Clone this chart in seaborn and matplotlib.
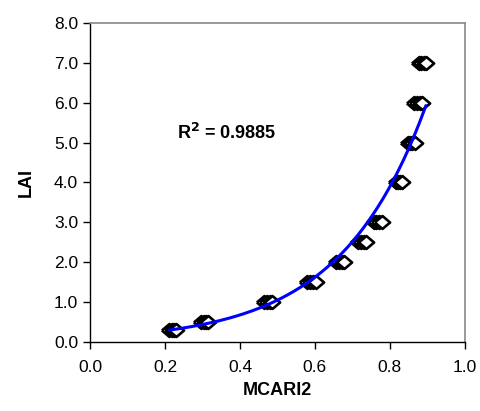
import numpy as np
import pandas as pd
import seaborn as sns
import matplotlib
matplotlib.use("Agg")
import matplotlib.pyplot as plt

# LAI levels and MCARI2 readings (several samples per LAI level)
lai_levels = [0.3, 0.5, 1.0, 1.5, 2.0, 2.5, 3.0, 4.0, 5.0, 6.0, 7.0]
mcari2 = [
    [0.212, 0.218, 0.224, 0.230],
    [0.295, 0.303, 0.310, 0.316],
    [0.465, 0.472, 0.480, 0.486],
    [0.578, 0.588, 0.596, 0.604],
    [0.655, 0.663, 0.671, 0.678],
    [0.714, 0.722, 0.730, 0.737],
    [0.757, 0.764, 0.771, 0.778],
    [0.815, 0.821, 0.827, 0.833],
    [0.848, 0.854, 0.860, 0.866],
    [0.865, 0.872, 0.879, 0.885],
    [0.878, 0.884, 0.890, 0.896],
]
r2_text = "R$^\\mathbf{2}$ = 0.9885"

rows = []
for lai, xs in zip(lai_levels, mcari2):
    for x in xs:
        rows.append({"MCARI2": x, "LAI": lai})
df = pd.DataFrame(rows)

# exponential trend line (fit on log LAI)
b, ln_a = np.polyfit(df["MCARI2"], np.log(df["LAI"]), 1)
xfit = np.linspace(df["MCARI2"].min(), df["MCARI2"].max(), 200)
fit = pd.DataFrame({"MCARI2": xfit, "LAI": np.exp(ln_a) * np.exp(b * xfit)})

sns.set_style("white")
plt.rcParams["font.family"] = ["Liberation Sans", "DejaVu Sans"]
plt.rcParams["text.color"] = "black"
plt.rcParams["axes.labelcolor"] = "black"
plt.rcParams["xtick.color"] = "black"
plt.rcParams["ytick.color"] = "black"

# slightly wide diamond like the spreadsheet marker
wide_diamond = [(-1, 0), (0, 0.85), (1, 0), (0, -0.85), (-1, 0)]

fig = plt.figure(figsize=(4.8, 4.11), dpi=100)
ax = fig.add_axes([0.1875, 0.168, 0.781, 0.776])

sns.scatterplot(data=df, x="MCARI2", y="LAI", marker=wide_diamond, s=120,
                facecolor="white", edgecolor="black", linewidth=1.9, ax=ax, zorder=2)
sns.lineplot(data=fit, x="MCARI2", y="LAI", color="#0000FF", linewidth=2.2, ax=ax, zorder=3)

ax.set_xlim(0, 1.0)
ax.set_ylim(0, 8.0)
ax.set_xticks(np.arange(0, 1.01, 0.2))
ax.set_yticks(np.arange(0, 8.01, 1.0))
ax.xaxis.set_major_formatter(matplotlib.ticker.FormatStrFormatter("%.1f"))
ax.yaxis.set_major_formatter(matplotlib.ticker.FormatStrFormatter("%.1f"))
ax.tick_params(axis="both", direction="out", length=5, width=1, colors="black",
               labelsize=12.5, bottom=True, left=True)
ax.tick_params(axis="x", pad=8)

for side in ["left", "bottom"]:
    ax.spines[side].set_color("black")
    ax.spines[side].set_linewidth(1)
for side in ["top", "right"]:
    ax.spines[side].set_color("#888888")
    ax.spines[side].set_linewidth(1.2)

ax.set_xlabel("MCARI2", fontsize=13, fontweight="bold", labelpad=5)
ax.set_ylabel("LAI", fontsize=13, fontweight="bold", labelpad=14)

ax.text(0.232, 5.25, r2_text, fontsize=13, fontweight="bold", va="center", ha="left")

fig.savefig("out.png", dpi=100)
